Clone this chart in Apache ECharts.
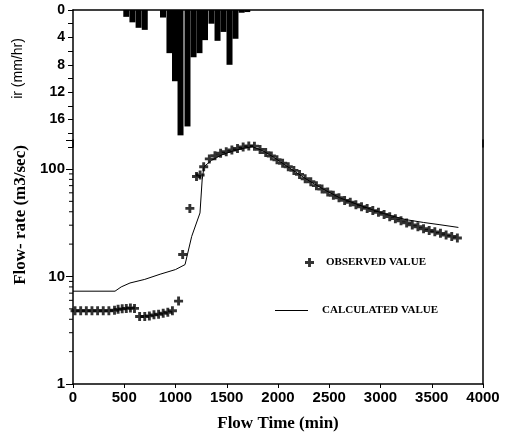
<!DOCTYPE html>
<html>
<head>
<meta charset="utf-8">
<script src="https://cdn.jsdelivr.net/npm/echarts@6/dist/echarts.min.js"></script>
<style>
  html, body { margin: 0; padding: 0; background: #fff; }
  #chart { width: 511px; height: 437px; }
</style>
</head>
<body>
<div id="chart"></div>
<script>
  // rainfall intensity (hyetograph, top panel)
  const rainTime = [520, 580, 640, 700, 878, 941, 995, 1049, 1117, 1176, 1234, 1288, 1351, 1410, 1468, 1527, 1585, 1645, 1700]
  const rainDepth = [1.0, 1.8, 2.6, 2.9, 1.1, 6.3, 10.4, 18.3, 17.0, 6.9, 6.3, 4.4, 2.0, 4.5, 3.2, 8.0, 4.2, 0.4, 0.3]

  // observed flow (crosses)
  const obsTime = [20, 75, 130, 185, 240, 295, 350, 405, 440, 480, 520, 560, 600,
    650, 700, 745, 790, 835, 880, 925, 970, 1030, 1070, 1140, 1205, 1240, 1275,
    1330, 1385, 1440, 1495, 1550, 1605, 1660, 1715, 1770, 1825, 1880, 1935, 1990,
    2045, 2100, 2155, 2210, 2265, 2320, 2375, 2430, 2485, 2540, 2595, 2650, 2705,
    2760, 2815, 2870, 2925, 2980, 3035, 3090, 3145, 3200, 3255, 3310, 3365, 3420,
    3475, 3530, 3585, 3640, 3695, 3750]
  const obsFlow = [4.8, 4.8, 4.8, 4.8, 4.8, 4.8, 4.8, 4.85, 4.95, 5.0, 5.05, 5.1, 5.05,
    4.25, 4.25, 4.3, 4.4, 4.45, 4.55, 4.65, 4.8, 5.9, 16, 43, 85, 88, 105,
    124, 133, 140, 145, 150, 155, 160, 164, 163, 152, 142, 132, 122,
    113, 105, 97, 89, 81, 76, 70, 65, 61, 57, 54, 51, 49,
    46.5, 44.5, 43, 41, 39.5, 37.8, 36, 34.5, 33, 31.5, 30.2, 29, 27.8,
    26.8, 26, 25.2, 24.3, 23.6, 22.8]

  // calculated flow (line)
  const calcTime = [0, 410, 470, 556, 700, 850, 1000, 1093, 1158, 1239, 1260, 1278, 1350, 1450,
    1550, 1650, 1750, 1850, 1950, 2100, 2280, 2440, 2600, 2770, 2930, 3090, 3255, 3420, 3580, 3760]
  const calcFlow = [7.3, 7.3, 8.0, 8.7, 9.4, 10.5, 11.6, 12.9, 23.6, 39, 79, 105, 120, 135,
    146, 155, 161, 148, 130, 104, 80, 65, 54, 47, 41.5, 37, 33.7, 31.8, 30.3, 28.6]

  // log axis minor tick values
  const logMinorTicks = [2, 3, 4, 5, 6, 7, 8, 9, 20, 30, 40, 50, 60, 70, 80, 90]

  const timeTicks = ['0', '500', '1000', '1500', '2000', '2500', '3000', '3500', '4000']

  const serif = 'Liberation Serif'
  const sans = 'Liberation Sans'
  // thick cross marker
  const plus = 'path://M3.4,0H6.6V3.4H10V6.6H6.6V10H3.4V6.6H0V3.4H3.4Z'

  let chart = echarts.init(document.getElementById('chart'))
  let option = {
    animation: false,
    backgroundColor: '#fff',
    grid: [
      { left: 73, top: 10, width: 410, height: 137 },
      { left: 73, top: 140, width: 410, height: 245 }
    ],
    legend: [
      {
        data: ['OBSERVED VALUE'],
        left: 300, top: 252,
        itemWidth: 9, itemHeight: 9,
        textStyle: { fontFamily: serif, fontWeight: 'bold', fontSize: 11, color: '#000', padding: [0, 0, 0, 7] }
      },
      {
        data: ['CALCULATED VALUE'],
        left: 270, top: 300,
        itemWidth: 33, itemHeight: 1,
        icon: 'rect',
        textStyle: { fontFamily: serif, fontWeight: 'bold', fontSize: 11, color: '#000', padding: [0, 0, 0, 9] }
      }
    ],
    xAxis: [
      {
        gridIndex: 0, type: 'value', min: 0, max: 4000, position: 'top',
        axisLine: { onZero: false, lineStyle: { color: '#000', width: 1.5 } },
        axisTick: { show: false }, axisLabel: { show: false }, splitLine: { show: false }
      },
      {
        gridIndex: 1, type: 'value', min: 0, max: 4000, interval: 500, position: 'bottom',
        name: 'Flow Time (min)', nameLocation: 'middle', nameGap: 31,
        nameTextStyle: { fontFamily: serif, fontWeight: 'bold', fontSize: 17, color: '#000' },
        axisLine: { onZero: false, lineStyle: { color: '#000', width: 1.5 } },
        axisTick: { length: 4, lineStyle: { color: '#000' } },
        axisLabel: {
          margin: 6, color: '#000', fontFamily: sans, fontWeight: 'bold', fontSize: 15,
          formatter: v => timeTicks[v / 500]
        },
        splitLine: { show: false }
      }
    ],
    yAxis: [
      {
        gridIndex: 0, type: 'value', inverse: true, min: 0, max: 20, interval: 2,
        name: 'ir (mm/hr)', nameLocation: 'middle', nameGap: 48,
        nameTextStyle: { fontFamily: sans, fontSize: 14, color: '#000', padding: [0, 0, 0, 20] },
        axisLine: { lineStyle: { color: '#000', width: 1.5 } },
        axisTick: { length: 5, lineStyle: { color: '#000' } },
        axisLabel: {
          margin: 8, color: '#000', fontFamily: sans, fontWeight: 'bold', fontSize: 14,
          formatter: v => (v % 4 === 0 && v <= 16) ? String(v) : ''
        },
        splitLine: { show: false }
      },
      {
        gridIndex: 0, type: 'value', position: 'right', min: 0, max: 20,
        axisLine: { show: true, lineStyle: { color: '#000', width: 1.5 } },
        axisTick: { show: false }, axisLabel: { show: false }, splitLine: { show: false }
      },
      {
        gridIndex: 1, type: 'log', logBase: 10, min: 1, max: 186,
        name: 'Flow- rate (m3/sec)', nameLocation: 'middle', nameGap: 36,
        nameTextStyle: { fontFamily: serif, fontWeight: 'bold', fontSize: 17, color: '#000', padding: [0, 0, 0, 94] },
        axisLine: { lineStyle: { color: '#000', width: 1.5 } },
        axisTick: { length: 7, lineStyle: { color: '#000' } },
        axisLabel: {
          margin: 8, color: '#000', fontFamily: sans, fontWeight: 'bold', fontSize: 15,
          formatter: v => {
            let l = Math.log10(v)
            return Math.abs(l - Math.round(l)) < 1e-6 ? String(Math.round(v)) : ''
          }
        },
        splitLine: { show: false }
      },
      {
        gridIndex: 1, type: 'value', position: 'right', min: 0, max: 1,
        axisLine: { show: true, lineStyle: { color: '#000', width: 1.5 } },
        axisTick: { show: false }, axisLabel: { show: false }, splitLine: { show: false }
      }
    ],
    series: [
      {
        name: 'ir',
        type: 'bar',
        xAxisIndex: 0, yAxisIndex: 0,
        barWidth: 6,
        itemStyle: { color: '#000' },
        data: rainTime.map((t, i) => [t, rainDepth[i]])
      },
      {
        name: 'CALCULATED VALUE',
        type: 'line',
        xAxisIndex: 1, yAxisIndex: 2,
        symbol: 'none',
        lineStyle: { color: '#000', width: 1 },
        itemStyle: { color: '#000' },
        data: calcTime.map((t, i) => [t, calcFlow[i]])
      },
      {
        name: 'OBSERVED VALUE',
        type: 'scatter',
        xAxisIndex: 1, yAxisIndex: 2,
        symbol: plus,
        symbolSize: 9,
        itemStyle: { color: '#000' },
        data: obsTime.map((t, i) => [t, obsFlow[i]])
      },
      {
        // minor ticks of the log axis (2..9 per decade)
        name: 'minor',
        type: 'custom',
        xAxisIndex: 1, yAxisIndex: 2,
        silent: true,
        clip: false,
        renderItem: (params, api) => {
          let p = api.coord([0, api.value(1)])
          return {
            type: 'line',
            shape: { x1: p[0] - 4, y1: p[1], x2: p[0], y2: p[1] },
            style: { stroke: '#000', lineWidth: 1 }
          }
        },
        data: logMinorTicks.map(v => [0, v])
      }
    ]
  }
  chart.setOption(option)
</script>
</body>
</html>
